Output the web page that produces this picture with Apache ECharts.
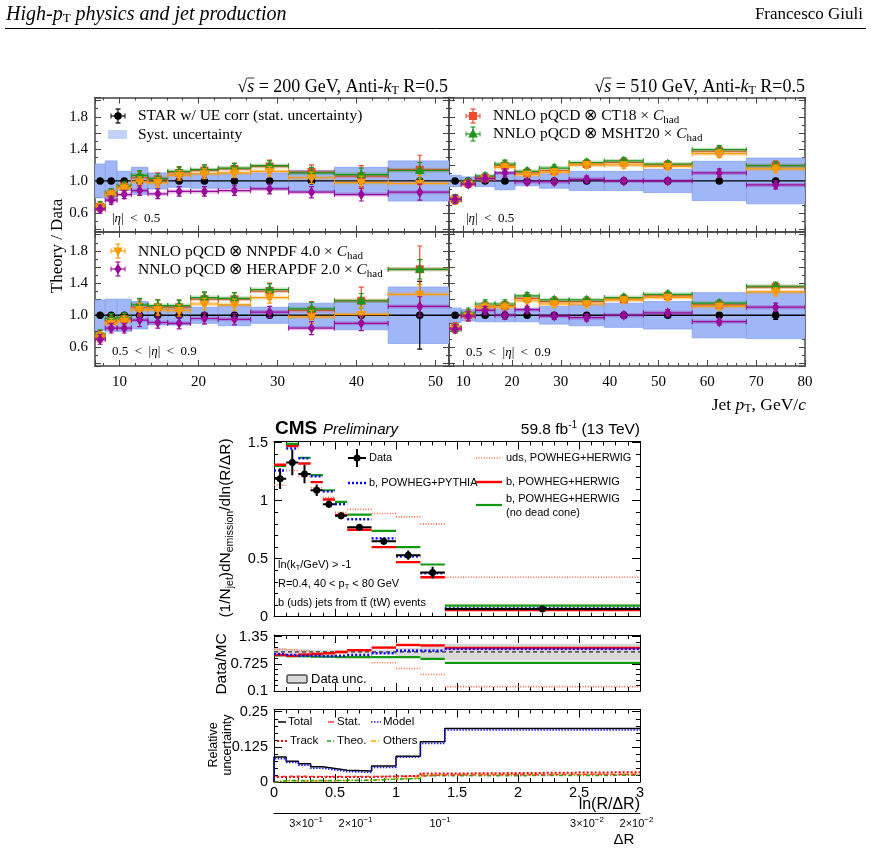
<!DOCTYPE html>
<html>
<head>
<meta charset="utf-8">
<script src="https://cdn.jsdelivr.net/npm/echarts@6/dist/echarts.min.js"></script>
<style>
html,body{margin:0;padding:0;background:#fff;}
#chart{width:871px;height:850px;}
</style>
</head>
<body>
<div id="chart"></div>
<script>
// ================= STAR: bin edges (jet pT, GeV/c) =================
const star200Edges = [6.9, 8.2, 9.7, 11.5, 13.6, 16.1, 19.0, 22.5, 26.6, 31.4, 37.2, 44.0, 52.0];
const star510Edges = [7.1, 9.6, 12.5, 16.5, 20.6, 25.6, 31.7, 38.9, 46.9, 56.9, 68.0, 80.0];

// 200 GeV, |eta| < 0.5
const s200A_syst  = [0.21, 0.25, 0.12, 0.17, 0.10, 0.08, 0.09, 0.09, 0.10, 0.13, 0.17, 0.25];
const s200A_stat  = [0.01, 0.01, 0.01, 0.01, 0.01, 0.01, 0.01, 0.01, 0.01, 0.01, 0.02, 0.03];
const s200A_ct18  = [0.68, 0.84, 0.93, 1.04, 1.02, 1.10, 1.13, 1.15, 1.18, 1.11, 1.06, 1.14];
const s200A_msht  = [0.69, 0.85, 0.94, 1.07, 1.03, 1.12, 1.14, 1.16, 1.19, 1.10, 1.08, 1.13];
const s200A_nnpdf = [0.67, 0.83, 0.91, 0.99, 0.98, 1.07, 1.09, 1.10, 1.12, 1.04, 0.98, 0.97];
const s200A_hera  = [0.65, 0.76, 0.83, 0.88, 0.84, 0.87, 0.87, 0.88, 0.90, 0.86, 0.83, 0.86];
const s200A_errCT = [0.06, 0.06, 0.05, 0.08, 0.08, 0.07, 0.07, 0.07, 0.08, 0.09, 0.13, 0.18];
const s200A_errPDF= [0.05, 0.05, 0.05, 0.06, 0.06, 0.06, 0.06, 0.06, 0.06, 0.07, 0.08, 0.10];

// 510 GeV, |eta| < 0.5
const s510A_syst  = [0.07, 0.05, 0.07, 0.11, 0.06, 0.09, 0.12, 0.12, 0.145, 0.245, 0.285];
const s510A_stat  = [0.02, 0.01, 0.01, 0.01, 0.01, 0.01, 0.01, 0.01, 0.01, 0.02, 0.03];
const s510A_ct18  = [0.77, 0.97, 1.04, 1.19, 1.10, 1.13, 1.21, 1.23, 1.20, 1.37, 1.19];
const s510A_msht  = [0.78, 0.99, 1.06, 1.21, 1.12, 1.16, 1.23, 1.25, 1.21, 1.39, 1.19];
const s510A_nnpdf = [0.76, 0.96, 1.03, 1.17, 1.08, 1.11, 1.20, 1.20, 1.18, 1.34, 1.15];
const s510A_hera  = [0.77, 0.96, 1.03, 1.10, 0.99, 0.99, 1.02, 1.00, 1.00, 1.10, 0.95];
const s510A_errCT = [0.06, 0.05, 0.05, 0.06, 0.05, 0.05, 0.05, 0.05, 0.05, 0.06, 0.06];
const s510A_errPDF= [0.05, 0.04, 0.04, 0.05, 0.04, 0.04, 0.04, 0.04, 0.04, 0.05, 0.05];

// 200 GeV, 0.5 < |eta| < 0.9
const s200B_syst  = [0.19, 0.20, 0.20, 0.17, 0.12, 0.12, 0.10, 0.13, 0.10, 0.15, 0.18, 0.35];
const s200B_stat  = [0.01, 0.01, 0.01, 0.01, 0.01, 0.01, 0.01, 0.01, 0.02, 0.02, 0.03, 0.42];
const s200B_ct18  = [0.74, 0.93, 0.95, 1.10, 1.10, 1.10, 1.20, 1.20, 1.30, 1.06, 1.18, 1.57];
const s200B_msht  = [0.76, 0.96, 0.97, 1.13, 1.12, 1.12, 1.22, 1.21, 1.32, 1.08, 1.18, 1.57];
const s200B_nnpdf = [0.73, 0.90, 0.93, 1.07, 1.07, 1.06, 1.14, 1.13, 1.22, 0.98, 1.01, 1.26];
const s200B_hera  = [0.70, 0.84, 0.84, 0.94, 0.91, 0.90, 0.96, 0.95, 1.04, 0.84, 0.90, 1.11];
const s200B_errCT = [0.07, 0.07, 0.07, 0.09, 0.09, 0.08, 0.08, 0.08, 0.10, 0.11, 0.17, 0.29];
const s200B_errPDF= [0.06, 0.06, 0.06, 0.08, 0.07, 0.07, 0.07, 0.07, 0.07, 0.08, 0.09, 0.12];

// 510 GeV, 0.5 < |eta| < 0.9
const s510B_syst  = [0.09, 0.07, 0.08, 0.08, 0.08, 0.11, 0.13, 0.15, 0.17, 0.28, 0.29];
const s510B_stat  = [0.02, 0.01, 0.01, 0.01, 0.01, 0.01, 0.01, 0.01, 0.01, 0.02, 0.05];
const s510B_ct18  = [0.85, 1.00, 1.11, 1.12, 1.21, 1.17, 1.17, 1.20, 1.24, 1.13, 1.35];
const s510B_msht  = [0.84, 1.03, 1.14, 1.14, 1.24, 1.19, 1.19, 1.22, 1.26, 1.15, 1.36];
const s510B_nnpdf = [0.83, 0.99, 1.10, 1.10, 1.18, 1.14, 1.14, 1.19, 1.22, 1.11, 1.29];
const s510B_hera  = [0.83, 0.99, 1.06, 1.00, 1.07, 0.99, 0.97, 1.00, 1.03, 0.92, 1.10];
const s510B_errCT = [0.06, 0.07, 0.06, 0.05, 0.05, 0.04, 0.04, 0.04, 0.04, 0.05, 0.06];
const s510B_errPDF= [0.05, 0.06, 0.05, 0.05, 0.04, 0.04, 0.04, 0.04, 0.04, 0.04, 0.05];

// STAR tick labels
const starYLabels = [0.6, 1.0, 1.4, 1.8];

// ================= CMS: ln(R/dR) bins =================
const cmsEdges      = [0, 0.1, 0.2, 0.3, 0.4, 0.5, 0.6, 0.8, 1.0, 1.2, 1.4, 3.0];
const cmsData       = [1.19, 1.33, 1.23, 1.09, 0.97, 0.87, 0.77, 0.65, 0.53, 0.38, 0.066];
const cmsDataErr    = [0.09, 0.11, 0.08, 0.05, 0.03, 0.03, 0.03, 0.03, 0.04, 0.05, 0.01];
const cmsPythia     = [1.26, 1.45, 1.365, 1.21, 1.08, 0.97, 0.84, 0.675, 0.52, 0.375, 0.072];
const cmsHerwig     = [1.31, 1.47, 1.32, 1.16, 1.01, 0.876, 0.75, 0.60, 0.47, 0.34, 0.057];
const cmsNoDeadCone = [1.30, 1.49, 1.37, 1.22, 1.09, 0.99, 0.88, 0.74, 0.60, 0.45, 0.095];
const cmsUds        = [1.135, 1.26, 1.21, 1.11, 1.03, 0.90, 0.925, 0.89, 0.86, 0.80, 0.34];

const ratioPythia   = [0.95, 0.93, 0.91, 0.91, 0.90, 0.91, 0.93, 0.97, 1.03, 1.03, 1.07];
const ratioHerwig   = [0.93, 0.91, 0.94, 0.95, 0.97, 1.00, 1.04, 1.10, 1.16, 1.15, 1.09];
const ratioNoDC     = [0.92, 0.90, 0.90, 0.89, 0.89, 0.88, 0.88, 0.88, 0.88, 0.84, 0.75];
const ratioUds      = [1.06, 1.05, 1.02, 0.98, 0.94, 0.97, 0.87, 0.75, 0.62, 0.48, 0.20];

const relTotal  = [0.089, 0.074, 0.065, 0.054, 0.048, 0.042, 0.039, 0.057, 0.092, 0.143, 0.19];
const relModel  = [0.083, 0.070, 0.060, 0.049, 0.043, 0.037, 0.034, 0.052, 0.088, 0.137, 0.185];
const relStat   = [0.020, 0.021, 0.020, 0.020, 0.020, 0.020, 0.020, 0.020, 0.021, 0.025, 0.027];
const relTrack  = [0.018, 0.018, 0.018, 0.018, 0.018, 0.018, 0.018, 0.020, 0.022, 0.030, 0.035];
const relTheo   = [0.005, 0.005, 0.005, 0.005, 0.005, 0.006, 0.006, 0.010, 0.012, 0.022, 0.024];
const relOthers = [0.004, 0.004, 0.004, 0.004, 0.004, 0.005, 0.006, 0.012, 0.014, 0.026, 0.028];

const jetR = 0.4;
const deltaRTicks    = [0.3, 0.2, 0.1, 0.03, 0.02];
const deltaRMantissa = ['3\u00d710', '2\u00d710', '10', '3\u00d710', '2\u00d710'];
const deltaRExponent = ['\u22121', '\u22121', '\u22121', '\u22122', '\u22122'];
const ratioYLabels = [0.1, 0.725, 1.35];
const relYLabels = [0, 0.125, 0.25];

// ================= helpers =================
const SERIF = '"Liberation Serif"', SANS = '"Liberation Sans"';
const mctx = document.createElement('canvas').getContext('2d');
function measure(t, f){ mctx.font = f; return mctx.measureText(t).width; }
function fnt(size, fam, st){ return (st ? st + ' ' : '') + size + 'px ' + fam; }

function runs(x, y, parts, align, rotation){
  let total = 0;
  parts.forEach(p => { p.w = measure(p.t, p.f); total += p.w; });
  let cx = align === 'right' ? -total : (align === 'center' ? -total / 2 : 0);
  const children = [];
  parts.forEach(p => {
    children.push({type:'text', x:cx, y:(p.dy || 0), z:100,
      style:{text:p.t, font:p.f, fill:p.c || '#000', textAlign:'left', align:'left', textVerticalAlign:'middle', verticalAlign:'middle'}});
    if (p.over) children.push({type:'line', z:100, shape:{x1:cx, y1:-p.over, x2:cx + p.w, y2:-p.over}, style:{stroke:'#000', lineWidth:0.8}});
    cx += p.w;
  });
  return {type:'group', x:x, y:y, rotation:rotation || 0, z:100, children:children};
}

function marker(shape, x, y, color){
  switch (shape) {
    case 'square':  return {type:'rect', z:100, shape:{x:x - 4, y:y - 4, width:8, height:8}, style:{fill:color}};
    case 'tri':     return {type:'polygon', z:100, shape:{points:[[x, y - 5.5], [x - 4.8, y + 3.5], [x + 4.8, y + 3.5]]}, style:{fill:color}};
    case 'tridown': return {type:'polygon', z:100, shape:{points:[[x, y + 5.5], [x - 4.8, y - 3.5], [x + 4.8, y - 3.5]]}, style:{fill:color}};
    case 'diamond': return {type:'polygon', z:100, shape:{points:[[x, y - 5.5], [x + 3.6, y], [x, y + 5.5], [x - 3.6, y]]}, style:{fill:color}};
    default:        return {type:'circle', z:100, shape:{cx:x, cy:y, r:3.8}, style:{fill:color}};
  }
}
function ln(x1, y1, x2, y2, style){ return {type:'line', z:100, shape:{x1:x1, y1:y1, x2:x2, y2:y2}, style:style}; }
function ebar(x, y1, y2, color, lw, cap){
  return [
    ln(x, y1, x, y2, {stroke:color, lineWidth:lw}),
    ln(x - cap, y1, x + cap, y1, {stroke:color, lineWidth:lw}),
    ln(x - cap, y2, x + cap, y2, {stroke:color, lineWidth:lw})
  ];
}
function binData(edges, vals, errs){ return vals.map((v, i) => [edges[i], edges[i + 1], v, errs ? errs[i] : 0]); }

// ---- render functions ----
function systRender(params, api){
  const lo = api.value(0), hi = api.value(1), s = api.value(2);
  const a = api.coord([lo, 1 + s]), b = api.coord([hi, 1 - s]);
  return {type:'rect', shape:{x:a[0], y:a[1], width:b[0] - a[0], height:b[1] - a[1]},
          style:{fill:'#9fb7f6', stroke:'#86a2f0', lineWidth:0.8}};
}
function starDataRender(params, api){
  const lo = api.value(0), hi = api.value(1), v = api.value(2), e = api.value(3);
  const L = api.coord([lo, v]), R = api.coord([hi, v]);
  const xc = (L[0] + R[0]) / 2;
  const yt = api.coord([lo, v + e])[1], yb = api.coord([lo, v - e])[1];
  return {type:'group', children:[
    ln(L[0], L[1], R[0], R[1], {stroke:'#000', lineWidth:1.3}),
    ...ebar(xc, yt, yb, '#000', 1.2, 2.5),
    marker('circle', xc, L[1], '#000')
  ]};
}
function theoryRender(color, shape){
  return function(params, api){
    const lo = api.value(0), hi = api.value(1), v = api.value(2), e = api.value(3);
    const L = api.coord([lo, v]), R = api.coord([hi, v]);
    const xc = (L[0] + R[0]) / 2;
    const yt = api.coord([lo, v + e])[1], yb = api.coord([lo, v - e])[1];
    return {type:'group', children:[
      ln(L[0], L[1], R[0], R[1], {stroke:color, lineWidth:4, opacity:0.28}),
      ln(L[0], L[1], R[0], R[1], {stroke:color, lineWidth:1.2}),
      ln(L[0], L[1] - 2.5, L[0], L[1] + 2.5, {stroke:color, lineWidth:1}),
      ln(R[0], R[1] - 2.5, R[0], R[1] + 2.5, {stroke:color, lineWidth:1}),
      ...ebar(xc, yt, yb, color, 1.2, 2.5),
      marker(shape, xc, L[1], color)
    ]};
  };
}
function segRender(style){
  return function(params, api){
    const L = api.coord([api.value(0), api.value(2)]), R = api.coord([api.value(1), api.value(2)]);
    return {type:'line', shape:{x1:L[0], y1:L[1], x2:R[0], y2:R[1]}, style:style};
  };
}
function cmsDataRender(params, api){
  const lo = api.value(0), hi = api.value(1), v = api.value(2), e = api.value(3);
  const L = api.coord([lo, v]), R = api.coord([hi, v]);
  const xc = (L[0] + R[0]) / 2;
  const yt = api.coord([lo, v + e])[1], yb = api.coord([lo, v - e])[1];
  return {type:'group', children:[
    ln(L[0], L[1], R[0], R[1], {stroke:'#000', lineWidth:2}),
    ln(xc, yt, xc, yb, {stroke:'#000', lineWidth:2}),
    {type:'circle', shape:{cx:xc, cy:L[1], r:3.5}, style:{fill:'#000'}}
  ]};
}
function bandRender(params, api){
  const lo = api.value(0), hi = api.value(1), s = api.value(2);
  const a = api.coord([lo, 1 + s]), b = api.coord([hi, 1 - s]);
  return {type:'rect', shape:{x:a[0], y:a[1], width:b[0] - a[0], height:b[1] - a[1]}, style:{fill:'#d9d9d9'}};
}
function stepData(edges, vals){
  const d = [[edges[0], 0]];
  vals.forEach((v, i) => d.push([edges[i], v]));
  d.push([edges[edges.length - 1], vals[vals.length - 1]]);
  return d;
}

// ================= axes & grids =================
const grids = [], xAxes = [], yAxes = [];
function axisCfg(g, pos, o, showLabels){
  const a = {type:'value', gridIndex:g, position:pos, min:o.min, max:o.max,
    axisLine:{show:true, onZero:false, lineStyle:{color:o.lc, width:o.lw}},
    axisTick:{show:true, inside:true, length:o.tl, lineStyle:{color:o.lc, width:1}},
    minorTick:{show:true, splitNumber:o.minor, length:o.mtl, lineStyle:{color:o.lc, width:1}},
    splitLine:{show:false}, minorSplitLine:{show:false},
    axisLabel:{show:!!showLabels, formatter:o.fmt, color:'#000', fontFamily:o.ff, fontSize:o.fs, margin:o.margin,
               showMinLabel:true, showMaxLabel:true}};
  if (o.interval != null) a.interval = o.interval;
  if (o.split != null) a.splitNumber = o.split;
  return a;
}
function addGrid(rect, xo, yo, xLab, yLab){
  const g = grids.length;
  grids.push({left:rect[0], top:rect[1], width:rect[2], height:rect[3], show:false});
  xAxes.push(axisCfg(g, 'bottom', xo, xLab));
  xAxes.push(axisCfg(g, 'top', xo, false));
  yAxes.push(axisCfg(g, 'left', yo, yLab));
  yAxes.push(axisCfg(g, 'right', yo, false));
  return g;
}
const starXFmt = v => { const r = Math.round(v); return (Math.abs(v - r) < 1e-6 && r % 10 === 0) ? String(r) : ''; };
const starYFmt = v => { const r = Math.round(v * 10) / 10; return (Math.abs(v - r) < 1e-6 && starYLabels.indexOf(r) >= 0) ? r.toFixed(1) : ''; };
const starBase = {lc:'#444', lw:1.5, tl:6, mtl:3, ff:'Liberation Serif', fs:15};
const x200 = Object.assign({}, starBase, {min:6.9, max:51.7, split:5, minor:5, fmt:starXFmt, margin:9});
const x510 = Object.assign({}, starBase, {min:7.1, max:80, split:7, minor:5, fmt:starXFmt, margin:9});
const yStar = Object.assign({}, starBase, {min:0.37, max:2.04, split:8, minor:2, fmt:starYFmt, margin:7});

const gTL = addGrid([95, 97.5, 354, 134], x200, yStar, false, true);
const gTR = addGrid([449, 97.5, 356, 134], x510, yStar, false, false);
const gBL = addGrid([95, 231.5, 354, 134.5], x200, yStar, true, true);
const gBR = addGrid([449, 231.5, 356, 134.5], x510, yStar, true, false);

const cmsBase = {lc:'#000', lw:1, tl:8, mtl:4, ff:'Liberation Sans'};
const xCms = Object.assign({}, cmsBase, {min:0, max:3, interval:0.5, minor:5, fs:14.5, margin:3,
  fmt: v => (Math.abs(v * 2 - Math.round(v * 2)) < 1e-6 ? String(v) : '')});
const yCmsTop = Object.assign({}, cmsBase, {min:0, max:1.51, interval:0.5, minor:5, fs:14.5, margin:6,
  fmt: v => (Math.abs(v * 2 - Math.round(v * 2)) < 1e-6 ? String(v) : '')});
const yCmsRatio = Object.assign({}, cmsBase, {min:0.1, max:1.39, interval:0.625, minor:5, fs:15, margin:6,
  fmt: v => (ratioYLabels.some(t => Math.abs(t - v) < 1e-6) ? String(v) : '')});
const yCmsRel = Object.assign({}, cmsBase, {min:0, max:0.258, interval:0.125, minor:5, fs:14.5, margin:6,
  fmt: v => (relYLabels.some(t => Math.abs(t - v) < 1e-6) ? String(v) : '')});

const gCTop = addGrid([274, 441.5, 366, 175.2], xCms, yCmsTop, false, true);
const gCRat = addGrid([274, 635, 366, 56], xCms, yCmsRatio, false, true);
const gCRel = addGrid([274, 709.5, 366, 72.5], xCms, yCmsRel, true, true);

// Delta R secondary axis (own grid)
const gDR = grids.length;
grids.push({left:274, top:812, width:366, height:1, show:false});
xAxes.push({type:'value', gridIndex:gDR, min:0, max:3, position:'bottom',
  axisLine:{show:true, onZero:false, lineStyle:{color:'#000', width:1}}, axisTick:{show:false}, axisLabel:{show:false}, splitLine:{show:false}});
yAxes.push({type:'value', gridIndex:gDR, min:0, max:1, show:false});
const xDR = xAxes.length - 1, yDR = yAxes.length - 1;

// ================= series =================
const series = [];
const starPanels = [
  {g:gTL, e:star200Edges, syst:s200A_syst, stat:s200A_stat, ct18:s200A_ct18, msht:s200A_msht, nnpdf:s200A_nnpdf, hera:s200A_hera, eCT:s200A_errCT, ePDF:s200A_errPDF},
  {g:gTR, e:star510Edges, syst:s510A_syst, stat:s510A_stat, ct18:s510A_ct18, msht:s510A_msht, nnpdf:s510A_nnpdf, hera:s510A_hera, eCT:s510A_errCT, ePDF:s510A_errPDF},
  {g:gBL, e:star200Edges, syst:s200B_syst, stat:s200B_stat, ct18:s200B_ct18, msht:s200B_msht, nnpdf:s200B_nnpdf, hera:s200B_hera, eCT:s200B_errCT, ePDF:s200B_errPDF},
  {g:gBR, e:star510Edges, syst:s510B_syst, stat:s510B_stat, ct18:s510B_ct18, msht:s510B_msht, nnpdf:s510B_nnpdf, hera:s510B_hera, eCT:s510B_errCT, ePDF:s510B_errPDF}
];
const COL = {ct18:'#ec4a2a', msht:'#1e961e', nnpdf:'#ff9a00', hera:'#9a0a9a'};
const models = [
  {k:'ct18', shape:'square', err:'eCT'},
  {k:'msht', shape:'tri', err:'ePDF'},
  {k:'nnpdf', shape:'tridown', err:'ePDF'},
  {k:'hera', shape:'diamond', err:'ePDF'}
];
starPanels.forEach(p => {
  const xi = 2 * p.g, yi = 2 * p.g;
  series.push({type:'custom', xAxisIndex:xi, yAxisIndex:yi, clip:true, z:1, data:binData(p.e, p.syst), renderItem:systRender});
  series.push({type:'custom', xAxisIndex:xi, yAxisIndex:yi, clip:true, z:2,
    data:p.stat.map((s, i) => [p.e[i], p.e[i + 1], 1, s]), renderItem:starDataRender});
  models.forEach((m, mi) => {
    series.push({type:'custom', xAxisIndex:xi, yAxisIndex:yi, clip:true, z:3 + mi,
      data:binData(p.e, p[m.k], p[m.err]), renderItem:theoryRender(COL[m.k], m.shape)});
  });
});

// CMS top panel
const cTop = 2 * gCTop, cRat = 2 * gCRat, cRel = 2 * gCRel;
const stUds    = {stroke:'#ff6a4a', lineWidth:1.6, lineDash:[1, 1.6]};
const stHerwig = {stroke:'#ff0000', lineWidth:2.4};
const stNoDC   = {stroke:'#119911', lineWidth:2.2};
const stPythia = {stroke:'#0000ff', lineWidth:2.4, lineDash:[2, 2]};
series.push({type:'custom', xAxisIndex:cTop, yAxisIndex:cTop, clip:true, z:2, data:binData(cmsEdges, cmsUds), renderItem:segRender(stUds)});
series.push({type:'custom', xAxisIndex:cTop, yAxisIndex:cTop, clip:true, z:3, data:binData(cmsEdges, cmsNoDeadCone), renderItem:segRender(stNoDC)});
series.push({type:'custom', xAxisIndex:cTop, yAxisIndex:cTop, clip:true, z:4, data:binData(cmsEdges, cmsHerwig), renderItem:segRender(stHerwig)});
series.push({type:'custom', xAxisIndex:cTop, yAxisIndex:cTop, clip:true, z:5, data:binData(cmsEdges, cmsPythia), renderItem:segRender(stPythia)});
series.push({type:'custom', xAxisIndex:cTop, yAxisIndex:cTop, clip:true, z:6, data:binData(cmsEdges, cmsData, cmsDataErr), renderItem:cmsDataRender});

// ratio panel
series.push({type:'custom', xAxisIndex:cRat, yAxisIndex:cRat, clip:true, z:1, data:binData(cmsEdges, relTotal), renderItem:bandRender});
series.push({type:'custom', xAxisIndex:cRat, yAxisIndex:cRat, clip:true, z:2, data:[[cmsEdges[0], cmsEdges[cmsEdges.length - 1], 1]],
  renderItem:segRender({stroke:'#000', lineWidth:1, lineDash:[4, 3]})});
series.push({type:'custom', xAxisIndex:cRat, yAxisIndex:cRat, clip:true, z:3, data:binData(cmsEdges, ratioUds), renderItem:segRender(stUds)});
series.push({type:'custom', xAxisIndex:cRat, yAxisIndex:cRat, clip:true, z:4, data:binData(cmsEdges, ratioNoDC), renderItem:segRender(stNoDC)});
series.push({type:'custom', xAxisIndex:cRat, yAxisIndex:cRat, clip:true, z:5, data:binData(cmsEdges, ratioHerwig), renderItem:segRender(stHerwig)});
series.push({type:'custom', xAxisIndex:cRat, yAxisIndex:cRat, clip:true, z:6, data:binData(cmsEdges, ratioPythia), renderItem:segRender(stPythia)});

// relative uncertainty panel
function relLine(vals, ls, z){
  return {type:'line', xAxisIndex:cRel, yAxisIndex:cRel, step:'end', symbol:'none', showSymbol:false, z:z,
    data:stepData(cmsEdges, vals), lineStyle:ls};
}
series.push(relLine(relOthers, {color:'#ffaa00', width:1.6, type:[5, 2, 1, 2]}, 2));
series.push(relLine(relTheo,   {color:'#22aa22', width:1.6, type:[4, 2, 1, 2]}, 3));
series.push(relLine(relTrack,  {color:'#ff0000', width:2, type:[2, 2]}, 4));
series.push(relLine(relStat,   {color:'#ff3333', width:1.4, type:[4, 3]}, 5));
series.push(relLine(relTotal,  {color:'#000000', width:1.5}, 6));
series.push(relLine(relModel,  {color:'#1a1aff', width:1.6, type:[1.5, 1.5]}, 7));

// Delta R labels
series.push({type:'custom', xAxisIndex:xDR, yAxisIndex:yDR, clip:false, z:10,
  data:deltaRTicks.map(d => [Math.log(jetR / d), 0]),
  renderItem:function(params, api){
    const i = params.dataIndex;
    const p = api.coord([api.value(0), api.value(1)]);
    const fm = fnt(11, SANS), fe = fnt(8, SANS);
    const wm = measure(deltaRMantissa[i], fm), we = measure(deltaRExponent[i], fe);
    const x0 = p[0] - (wm + we) / 2 - 3;
    return {type:'group', children:[
      {type:'text', x:x0, y:p[1] + 11, style:{text:deltaRMantissa[i], font:fm, fill:'#000', textAlign:'left', align:'left', textVerticalAlign:'middle', verticalAlign:'middle'}},
      {type:'text', x:x0 + wm, y:p[1] + 7, style:{text:deltaRExponent[i], font:fe, fill:'#000', textAlign:'left', align:'left', textVerticalAlign:'middle', verticalAlign:'middle'}}
    ]};
  }});

// ================= graphic texts / legends =================
const G = [];
// page header
G.push(runs(6, 15, [
  {t:'High-', f:fnt(20, SERIF, 'italic')},
  {t:'p', f:fnt(20, SERIF, 'italic')},
  {t:'T', f:fnt(13, SERIF), dy:4},
  {t:' physics and jet production', f:fnt(20, SERIF, 'italic')}
], 'left'));
G.push(runs(863, 15, [{t:'Francesco Giuli', f:fnt(17, SERIF)}], 'right'));
G.push(ln(5, 28.5, 866, 28.5, {stroke:'#000', lineWidth:1}));

// STAR titles
function sqrtTitle(x, energy){
  return runs(x, 87, [
    {t:'\u221a', f:fnt(18, SERIF)},
    {t:'s', f:fnt(18, SERIF, 'italic'), over:9},
    {t:' = ' + energy + ' GeV, Anti-', f:fnt(18, SERIF)},
    {t:'k', f:fnt(18, SERIF, 'italic')},
    {t:'T', f:fnt(12, SERIF), dy:4},
    {t:' R=0.5', f:fnt(18, SERIF)}
  ], 'right');
}
G.push(sqrtTitle(448, '200'));
G.push(sqrtTitle(805, '510'));

// STAR legends
const lf = fnt(15.5, SERIF);
function chadText(x, y, pre){
  return runs(x, y, [{t:pre, f:lf}, {t:'C', f:fnt(15.5, SERIF, 'italic')}, {t:'had', f:fnt(11, SERIF), dy:4}], 'left');
}
function legMarker(x, y, color, shape){
  return [ln(x - 7, y, x + 7, y, {stroke:color, lineWidth:1.2}),
          ln(x - 7, y - 2.5, x - 7, y + 2.5, {stroke:color, lineWidth:1}),
          ln(x + 7, y - 2.5, x + 7, y + 2.5, {stroke:color, lineWidth:1}),
          ...ebar(x, y - 7, y + 7, color, 1.2, 2.5), marker(shape, x, y, color)];
}
G.push(...legMarker(118, 116, '#000', 'circle'));
G.push(runs(138, 116, [{t:'STAR w/ UE corr (stat. uncertainty)', f:lf}], 'left'));
G.push({type:'rect', z:100, shape:{x:108, y:130, width:19, height:9}, style:{fill:'#c2d1fa'}});
G.push(runs(138, 135, [{t:'Syst. uncertainty', f:lf}], 'left'));

G.push(...legMarker(473, 116, COL.ct18, 'square'));
G.push(chadText(493, 116, 'NNLO pQCD \u2297 CT18 \u00d7 '));
G.push(...legMarker(473, 134, COL.msht, 'tri'));
G.push(chadText(493, 134, 'NNLO pQCD \u2297 MSHT20 \u00d7 '));

G.push(...legMarker(118, 251, COL.nnpdf, 'tridown'));
G.push(chadText(138, 252, 'NNLO pQCD \u2297 NNPDF 4.0 \u00d7 '));
G.push(...legMarker(118, 269, COL.hera, 'diamond'));
G.push(chadText(138, 270, 'NNLO pQCD \u2297 HERAPDF 2.0 \u00d7 '));

// eta region labels
const ef = fnt(13, SERIF);
function etaA(x, y){ return runs(x, y, [{t:'|', f:ef}, {t:'\u03b7', f:fnt(13, SERIF, 'italic')}, {t:'|  <  0.5', f:ef}], 'left'); }
function etaB(x, y){ return runs(x, y, [{t:'0.5  <  |', f:ef}, {t:'\u03b7', f:fnt(13, SERIF, 'italic')}, {t:'|  <  0.9', f:ef}], 'left'); }
G.push(etaA(112, 219));
G.push(etaA(466, 219));
G.push(etaB(112, 352));
G.push(etaB(466, 353));

// STAR axis titles
G.push(runs(58, 246, [{t:'Theory / Data', f:fnt(17, SERIF)}], 'center', Math.PI / 2));
G.push(runs(806, 405, [
  {t:'Jet ', f:fnt(17.5, SERIF)}, {t:'p', f:fnt(17.5, SERIF, 'italic')}, {t:'T', f:fnt(12, SERIF), dy:4},
  {t:', GeV/', f:fnt(17.5, SERIF)}, {t:'c', f:fnt(17.5, SERIF, 'italic')}
], 'right'));

// CMS header
G.push(runs(275, 429, [{t:'CMS', f:fnt(19, SANS, 'bold')}], 'left'));
G.push(runs(323, 430, [{t:'Preliminary', f:fnt(15, SANS, 'italic')}], 'left'));
G.push(runs(640, 430, [
  {t:'59.8 fb', f:fnt(15.5, SANS)}, {t:'-1', f:fnt(10, SANS), dy:-5}, {t:' (13 TeV)', f:fnt(15.5, SANS)}
], 'right'));

// CMS y titles
G.push(runs(226, 528, [
  {t:'(1/N', f:fnt(15.5, SANS)}, {t:'jet', f:fnt(10.5, SANS), dy:4},
  {t:')dN', f:fnt(15.5, SANS)}, {t:'emission', f:fnt(10.5, SANS), dy:4},
  {t:'/dln(R/\u0394R)', f:fnt(15.5, SANS)}
], 'center', Math.PI / 2));
G.push(runs(222, 664, [{t:'Data/MC', f:fnt(15.5, SANS)}], 'center', Math.PI / 2));
G.push(runs(214, 745, [{t:'Relative', f:fnt(12.5, SANS)}], 'center', Math.PI / 2));
G.push(runs(228, 745, [{t:'uncertainty', f:fnt(12.5, SANS)}], 'center', Math.PI / 2));
G.push(runs(640, 805, [{t:'ln(R/\u0394R)', f:fnt(16, SANS)}], 'right'));
G.push(runs(624, 840, [{t:'\u0394R', f:fnt(15, SANS)}], 'center'));

// CMS in-plot texts
const cf = fnt(11, SANS), cfs = fnt(7.5, SANS);
G.push(runs(278, 565, [{t:'ln(k', f:cf}, {t:'T', f:cfs, dy:3}, {t:'/GeV) > -1', f:cf}], 'left'));
G.push(runs(278, 584, [{t:'R=0.4, 40 < p', f:cf}, {t:'T', f:cfs, dy:3}, {t:' < 80 GeV', f:cf}], 'left'));
G.push(runs(278, 603, [{t:'b (uds) jets from t', f:cf}, {t:'t\u0304', f:cf}, {t:' (tW) events', f:cf}], 'left'));

// CMS legend
G.push(ln(348, 458, 366, 458, {stroke:'#000', lineWidth:2}));
G.push(ln(357, 449, 357, 467, {stroke:'#000', lineWidth:2}));
G.push({type:'circle', z:100, shape:{cx:357, cy:458, r:3.5}, style:{fill:'#000'}});
G.push(runs(369, 458, [{t:'Data', f:cf}], 'left'));
G.push(ln(348, 483, 367, 483, stPythia));
G.push(runs(369, 483, [{t:'b, POWHEG+PYTHIA', f:cf}], 'left'));
G.push(ln(476, 458, 502, 458, stUds));
G.push(runs(506, 458, [{t:'uds, POWHEG+HERWIG', f:cf}], 'left'));
G.push(ln(476, 482, 502, 482, stHerwig));
G.push(runs(506, 482, [{t:'b, POWHEG+HERWIG', f:cf}], 'left'));
G.push(ln(476, 505, 502, 505, stNoDC));
G.push(runs(506, 499, [{t:'b, POWHEG+HERWIG', f:cf}], 'left'));
G.push(runs(506, 513, [{t:'(no dead cone)', f:cf}], 'left'));

// ratio legend
G.push({type:'rect', z:100, shape:{x:287, y:675, width:20, height:8, r:1}, style:{fill:'#d9d9d9', stroke:'#000', lineWidth:1}});
G.push(runs(311, 679, [{t:'Data unc.', f:fnt(13, SANS)}], 'left'));

// rel. unc. legend
const rf = fnt(11.5, SANS);
G.push(ln(278, 722, 286, 722, {stroke:'#000', lineWidth:1.5}));
G.push(runs(288, 722, [{t:'Total', f:rf}], 'left'));
G.push(ln(328, 722, 334, 722, {stroke:'#ff3333', lineWidth:1.4}));
G.push(runs(337, 722, [{t:'Stat.', f:rf}], 'left'));
G.push(ln(371, 722, 381, 722, {stroke:'#1a1aff', lineWidth:1.6, lineDash:[1.5, 1.5]}));
G.push(runs(383, 722, [{t:'Model', f:rf}], 'left'));
G.push(ln(277, 741, 288, 741, {stroke:'#ff0000', lineWidth:2, lineDash:[2, 2]}));
G.push(runs(290, 741, [{t:'Track', f:rf}], 'left'));
G.push(ln(327, 741, 335, 741, {stroke:'#22aa22', lineWidth:1.6, lineDash:[4, 2, 1, 2]}));
G.push(runs(337, 741, [{t:'Theo.', f:rf}], 'left'));
G.push(ln(371, 741, 381, 741, {stroke:'#ffaa00', lineWidth:1.6, lineDash:[5, 2, 1, 2]}));
G.push(runs(383, 741, [{t:'Others', f:rf}], 'left'));

// ================= chart =================
const chart = echarts.init(document.getElementById('chart'), null, {renderer:'canvas', width:871, height:850});
chart.setOption({
  animation:false,
  backgroundColor:'#ffffff',
  textStyle:{fontFamily:'Liberation Sans'},
  grid:grids,
  xAxis:xAxes,
  yAxis:yAxes,
  series:series,
  graphic:{elements:G}
});
</script>
</body>
</html>
